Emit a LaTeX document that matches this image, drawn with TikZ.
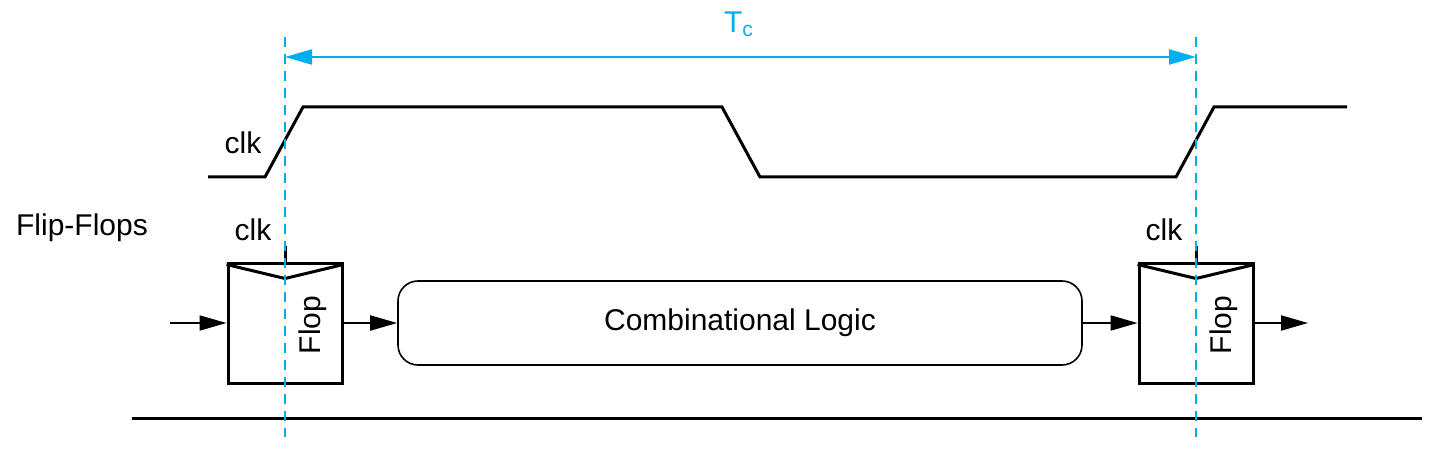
\documentclass[tikz,border=0pt]{standalone}
\usepackage{fontspec}
\setmainfont{Liberation Sans}
\usetikzlibrary{arrows.meta, positioning}
\definecolor{tcblue}{RGB}{0,174,239}
\tikzset{
  flop/.style={draw, line width=1.5pt, minimum width=57pt, minimum height=60pt, inner sep=0pt},
  logic/.style={draw, line width=0.8pt, rounded corners=10pt, minimum width=342pt, minimum height=42pt},
  wire/.style={line width=1pt, -{Triangle[length=13.5pt,width=7.5pt]}},
  wave/.style={line width=1.5pt},
  guide/.style={tcblue, line width=1.2pt, dash pattern=on 5pt off 3.5pt},
}

\begin{document}
\begin{tikzpicture}[x=0.5pt, y=-0.5pt, font=\fontsize{15}{18}\selectfont]
        \useasboundingbox (0,0) rectangle (1439,454);
        % Clock waveform
        \draw[wave] (208,177) -- (265,177) -- (303,107) -- (722,107) -- (760,177)
              -- (1176,177) -- (1214,107) -- (1347,107);
        \node (clkw) at (243,143) {clk};
        % Labels
        \node (ff) at (82,228) {Flip-Flops};
        % Flops and logic
        \node[flop] (flopA) at (285,323) {};
        \node[flop] (flopB) at (1196,323) {};
        \node[logic] (logic) at (740,323) {Combinational Logic};
        \node[rotate=90] (flopAtxt) at (313,325) {Flop};
        \node[rotate=90] (flopBtxt) at (1224,325) {Flop};
        % Clock inputs
        \draw[line width=1.5pt] ([yshift=-1.5pt]flopA.north west) -- ([yshift=-8.5pt]flopA.north)
              -- ([yshift=-1.5pt]flopA.north east);
        \draw[line width=1.5pt] ([yshift=-1.5pt]flopB.north west) -- ([yshift=-8.5pt]flopB.north)
              -- ([yshift=-1.5pt]flopB.north east);
        \draw[line width=1.5pt] (flopA.north) -- ++(0,-15);
        \draw[line width=1.5pt] (flopB.north) -- ++(0,-15);
        \node (clkA) at (253,230) {clk};
        \node (clkB) at (1164,230) {clk};
        % Data path
        \coordinate (din) at (170,323);
        \coordinate (dout) at (1308,323);
        \draw[wire] (din) -- (flopA.west);
        \draw[wire] (flopA.east) -- (logic.west);
        \draw[wire] (logic.east) -- (flopB.west);
        \draw[wire] (flopB.east) -- (dout);
        % Ground line
        \coordinate (gl) at (132,418);
        \coordinate (gr) at (1422,418);
        \draw[line width=1.5pt] (gl) -- (gr);
        % Cycle time
        \coordinate (ta) at (285,37);
        \coordinate (tb) at (285,437);
        \coordinate (tc) at (1196,37);
        \coordinate (td) at (1196,437);
        \draw[guide] (ta) -- (tb);
        \draw[guide] (tc) -- (td);
        \coordinate (pa) at (285,57);
        \coordinate (pb) at (1196,57);
        \draw[tcblue, line width=1pt, {Triangle[length=13.5pt,width=7.5pt]}-{Triangle[length=13.5pt,width=7.5pt]}] (pa) -- (pb);
        \node[tcblue] (tclab) at (739,24) {T\textsubscript{c}};
    \end{tikzpicture}
\end{document}
